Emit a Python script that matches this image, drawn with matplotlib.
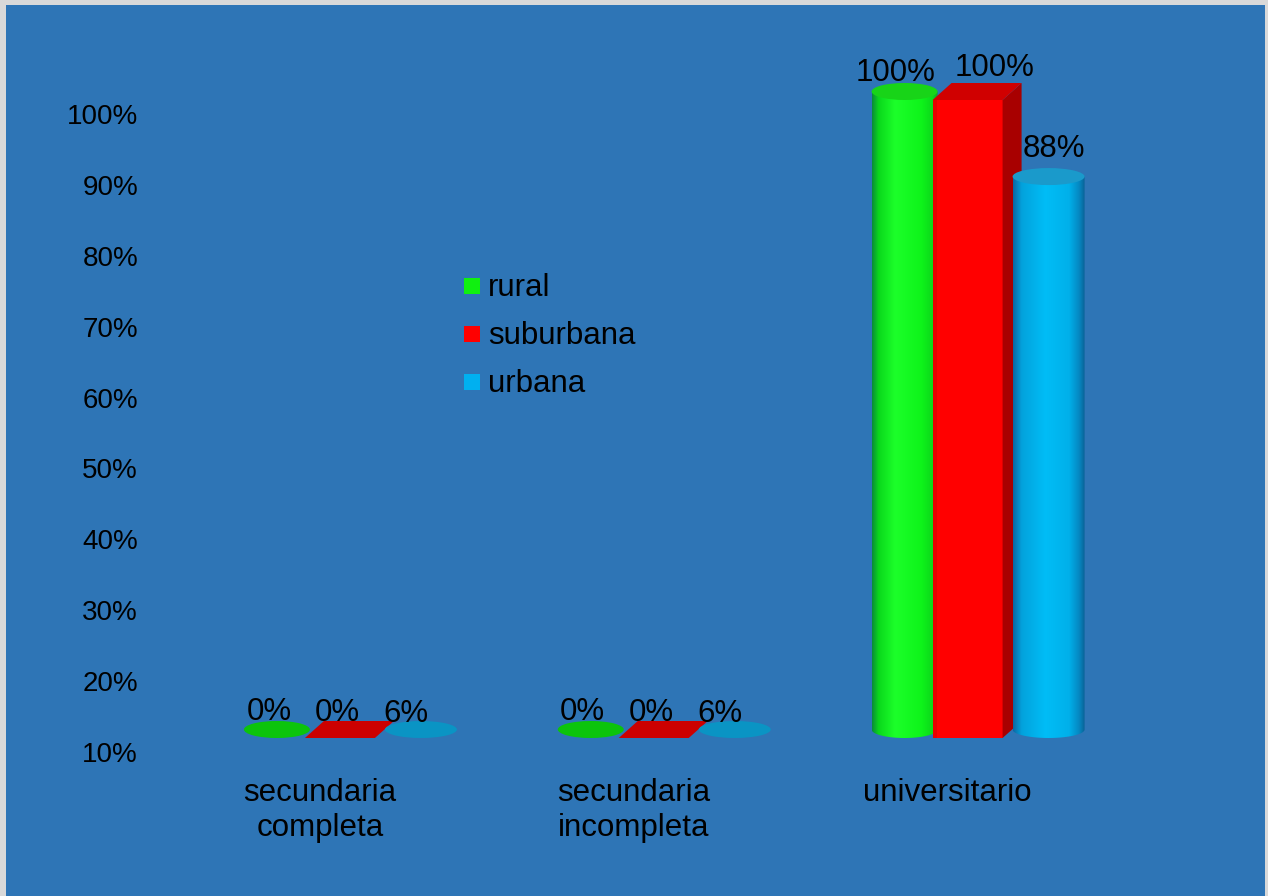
import numpy as np
import matplotlib
matplotlib.use("Agg")
import matplotlib.pyplot as plt
from matplotlib.patches import Rectangle, Ellipse, Polygon, PathPatch
from matplotlib.path import Path
from matplotlib.colors import LinearSegmentedColormap

# ---- data -------------------------------------------------------------
categories = ["secundaria\ncompleta", "secundaria\nincompleta", "universitario"]
series_names = ["rural", "suburbana", "urbana"]
rural = [0, 0, 100]
suburbana = [0, 0, 100]
urbana = [6, 6, 88]
y_ticks = [10, 20, 30, 40, 50, 60, 70, 80, 90, 100]
y_tick_labels = [f"{t}%" for t in y_ticks]

# ---- figure -------------------------------------------------------------
W, H = 1268, 896
FONT = ["Liberation Sans", "DejaVu Sans"]
plt.rcParams["font.family"] = FONT

fig = plt.figure(figsize=(W / 100, H / 100), dpi=100, facecolor="#D9D9D9")
bg = Rectangle((6 / W, 0), (1265 - 6) / W, 891 / H, transform=fig.transFigure,
               facecolor="#2E75B6", edgecolor="none", zorder=-5)
fig.add_artist(bg)

ax = fig.add_axes([163 / W, 144 / H, 941.5 / W, 638 / H])
ax.set_xlim(-0.5, 2.5)
ax.set_ylim(y_ticks[0], y_ticks[-1])
ax.patch.set_visible(False)
for s in ax.spines.values():
    s.set_visible(False)

ax.set_yticks(y_ticks)
ax.set_yticklabels(y_tick_labels)
ax.set_xticks(range(len(categories)))
ax.set_xticklabels(categories, multialignment="center")
ax.tick_params(axis="y", length=0, pad=18, labelsize=20, labelcolor="black")
ax.tick_params(axis="x", length=0, pad=19, labelsize=22.5, labelcolor="black")

# pixel -> data helpers (for the 3-D look)
ux = (941.5) / 3.0          # px per category unit
uy = 638.0 / 90.0           # px per percent
def dx(p):
    return p / ux
def dy(p):
    return p / uy

ymin = y_ticks[0]
floor_lift = dy(14)
depth_x, depth_y = dx(19), dy(17)
ell_h = dy(17)

green_cm = LinearSegmentedColormap.from_list("g", [
    (0.0, "#0b8a3a"), (0.10, "#0ad81c"), (0.35, "#1cff2a"),
    (0.75, "#0ef41a"), (0.92, "#0cd81a"), (1.0, "#139a30")])
blue_cm = LinearSegmentedColormap.from_list("b", [
    (0.0, "#0a68a4"), (0.12, "#03a2dc"), (0.45, "#00bdf6"),
    (0.78, "#00b0ea"), (0.92, "#0588c2"), (1.0, "#0a6296")])


def add(p):
    p.set_clip_on(False)
    ax.add_patch(p)


def cylinder(cx, value, width_px, cmap, top_color, flat_color, z):
    w = dx(width_px)
    x0, x1 = cx - w / 2, cx + w / 2
    yb = ymin + floor_lift + ell_h / 2
    yt = max(value, ymin) + floor_lift + ell_h / 2
    if yt > yb + 1e-9:
        a = np.linspace(np.pi, 2 * np.pi, 60)
        verts = [(cx + w / 2 * np.cos(t), yb + ell_h / 2 * np.sin(t)) for t in a]
        verts += [(x1, yt), (x0, yt), verts[0]]
        codes = [Path.MOVETO] + [Path.LINETO] * (len(verts) - 2) + [Path.CLOSEPOLY]
        clip = PathPatch(Path(verts, codes), transform=ax.transData,
                         facecolor="none", edgecolor="none")
        grad = np.linspace(0, 1, 256).reshape(1, -1)
        im = ax.imshow(grad, extent=[x0, x1, yb - ell_h / 2, yt], aspect="auto",
                       cmap=cmap, origin="lower", interpolation="bilinear", zorder=z)
        im.set_clip_box(fig.bbox)
        im.set_clip_path(clip)
        add(Ellipse((cx, yt), w, ell_h, facecolor=top_color,
                    edgecolor="none", zorder=z + 0.1))
    else:
        add(Ellipse((cx, yt), w, ell_h, facecolor=flat_color,
                    edgecolor="none", zorder=z + 0.1))
    return cx, yt


def box(cx, value, width_px, z):
    w = dx(width_px)
    x0, x1 = cx - w / 2, cx + w / 2
    yb = ymin + floor_lift
    yt = max(value, ymin) + floor_lift
    if yt > yb + 1e-9:
        add(Rectangle((x0, yb), w, yt - yb, facecolor="#FF0000",
                      edgecolor="none", zorder=z))
        add(Rectangle((x0, yb), dx(4), yt - yb, facecolor="#E80000",
                      edgecolor="none", zorder=z + 0.01))
        add(Polygon([(x1, yb), (x1 + depth_x, yb + depth_y),
                     (x1 + depth_x, yt + depth_y), (x1, yt)],
                    closed=True, facecolor="#A80000", edgecolor="none",
                    zorder=z))
        top_c = "#D00000"
    else:
        top_c = "#CC0000"
    add(Polygon([(x0, yt), (x1, yt), (x1 + depth_x, yt + depth_y),
                 (x0 + depth_x, yt + depth_y)], closed=True,
                facecolor=top_c, edgecolor="none", zorder=z + 0.1))
    return cx + depth_x / 2, yt + depth_y / 2


# placement of each series inside its category (pixels)
green_off, red_off, blue_off = dx(-43), dx(20), dx(101)
# value-label offsets (pixels) for lying / standing bars
label_off = {
    "rural": [(-8, 10), (-9, 11)],
    "suburbana": [(-12, 9), (17, 16)],
    "urbana": [(-15, 8), (5, 20)],
}

for i in range(len(categories)):
    anchors = []
    anchors.append(("rural", rural[i],
                    cylinder(i + green_off, rural[i], 66, green_cm,
                             "#18d418", "#0cc40c", 2)))
    anchors.append(("suburbana", suburbana[i],
                    box(i + red_off, suburbana[i], 70, 3)))
    anchors.append(("urbana", urbana[i],
                    cylinder(i + blue_off, urbana[i], 72, blue_cm,
                             "#1a9acb", "#0a94c4", 4)))
    for name, v, (ax_x, ax_y) in anchors:
        off = label_off[name][1 if v > ymin else 0]
        ax.annotate(f"{v}%", (ax_x, ax_y), xytext=off, textcoords="offset pixels",
                    ha="center", va="baseline", fontsize=22.5, color="black",
                    zorder=10, annotation_clip=False)

# legend
legend_colors = ["#10F010", "#FF0000", "#00B0F0"]
for k, (name, col) in enumerate(zip(series_names, legend_colors)):
    yc = 286 + 48 * k
    fig.add_artist(Rectangle((464 / W, (H - yc - 8) / H), 16 / W, 16 / H,
                             transform=fig.transFigure, facecolor=col,
                             edgecolor="none", zorder=5))
    fig.text(488 / W, (H - (yc + 10)) / H, name, fontsize=22.5, color="black",
             ha="left", va="baseline", zorder=5)

fig.savefig("out.png", dpi=100, facecolor=fig.get_facecolor())
